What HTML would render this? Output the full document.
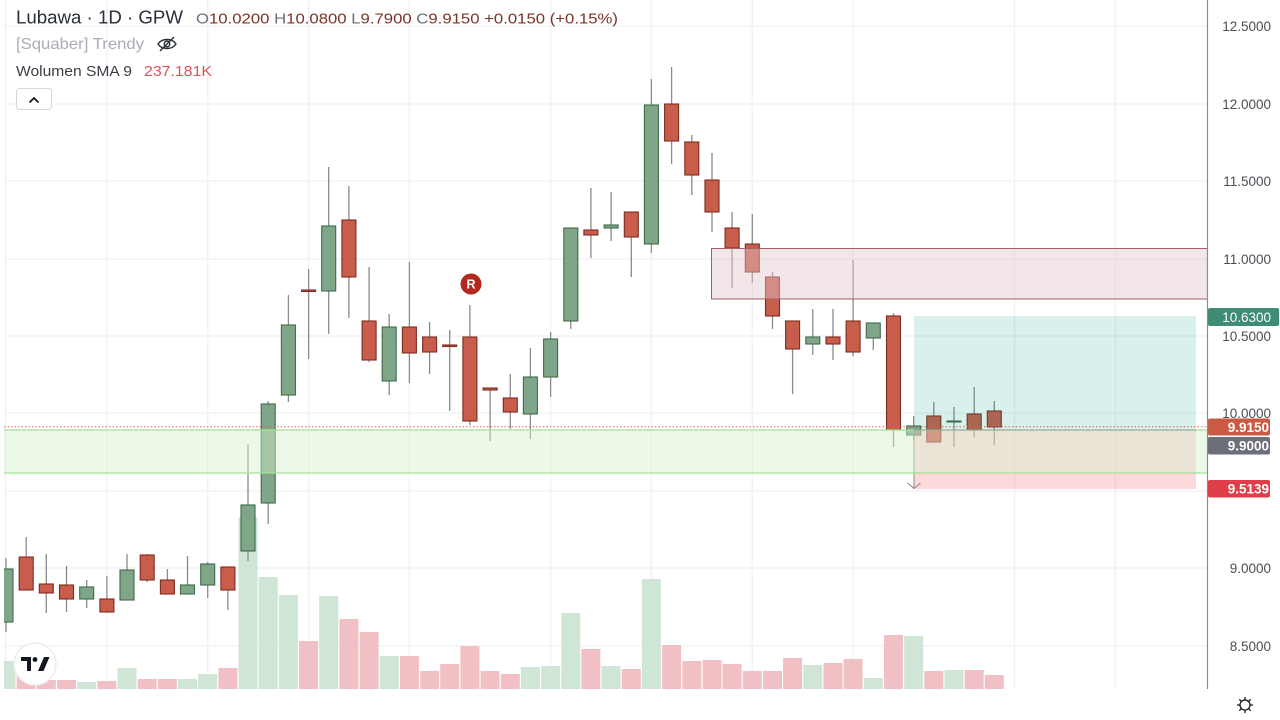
<!DOCTYPE html>
<html>
<head>
<meta charset="utf-8">
<style>
html,body{margin:0;padding:0;background:#fff;}
svg{display:block;}
text{font-family:"Liberation Sans",sans-serif;}
</style>
</head>
<body>
<svg width="1280" height="720" viewBox="0 0 1280 720" xmlns="http://www.w3.org/2000/svg">
<defs>
<clipPath id="plot"><rect x="4" y="0" width="1203" height="689"/></clipPath>
</defs>
<rect x="0" y="0" width="1280" height="720" fill="#ffffff"/>

<g clip-path="url(#plot)">
<!-- grid -->
<g stroke="#eef0f5" stroke-width="1.2">
<path d="M4 26H1207M4 104H1207M4 181H1207M4 259H1207M4 336H1207M4 413H1207M4 491H1207M4 568H1207M4 646H1207"/>
<path d="M5.5 0V689M106.9 0V689M207.7 0V689M308.6 0V689M409.4 0V689M550.6 0V689M651.4 0V689M752.3 0V689M853.1 0V689M1014.5 0V689M1115.4 0V689"/>
</g>

<!-- volume -->
<g fill="#cfe5d6">
<rect x="-3.5" y="661" width="19" height="28"/>
<rect x="77.2" y="682" width="19" height="7"/>
<rect x="117.5" y="668" width="19" height="21"/>
<rect x="178.0" y="679" width="19" height="10"/>
<rect x="198.2" y="674" width="19" height="15"/>
<rect x="238.5" y="517" width="19" height="172"/>
<rect x="258.7" y="577" width="19" height="112"/>
<rect x="278.9" y="595" width="19" height="94"/>
<rect x="319.2" y="596" width="19" height="93"/>
<rect x="379.7" y="656" width="19" height="33"/>
<rect x="520.9" y="667" width="19" height="22"/>
<rect x="541.1" y="666" width="19" height="23"/>
<rect x="561.3" y="613" width="19" height="76"/>
<rect x="601.6" y="666" width="19" height="23"/>
<rect x="641.9" y="579" width="19" height="110"/>
<rect x="803.3" y="665" width="19" height="24"/>
<rect x="863.8" y="678" width="19" height="11"/>
<rect x="904.2" y="636" width="19" height="53"/>
<rect x="944.5" y="670" width="19" height="19"/>
</g>
<g fill="#f0c0c4">
<rect x="16.7" y="675" width="19" height="14"/>
<rect x="36.8" y="680" width="19" height="9"/>
<rect x="57.0" y="680" width="19" height="9"/>
<rect x="97.4" y="681" width="19" height="8"/>
<rect x="137.7" y="679" width="19" height="10"/>
<rect x="157.9" y="679" width="19" height="10"/>
<rect x="218.4" y="668" width="19" height="21"/>
<rect x="299.1" y="641" width="19" height="48"/>
<rect x="339.4" y="619" width="19" height="70"/>
<rect x="359.6" y="632" width="19" height="57"/>
<rect x="399.9" y="656" width="19" height="33"/>
<rect x="420.1" y="671" width="19" height="18"/>
<rect x="440.2" y="664" width="19" height="25"/>
<rect x="460.4" y="646" width="19" height="43"/>
<rect x="480.6" y="671" width="19" height="18"/>
<rect x="500.8" y="674" width="19" height="15"/>
<rect x="581.4" y="649" width="19" height="40"/>
<rect x="621.8" y="669" width="19" height="20"/>
<rect x="662.1" y="645" width="19" height="44"/>
<rect x="682.3" y="661" width="19" height="28"/>
<rect x="702.5" y="660" width="19" height="29"/>
<rect x="722.6" y="664" width="19" height="25"/>
<rect x="742.8" y="671" width="19" height="18"/>
<rect x="763.0" y="671" width="19" height="18"/>
<rect x="783.1" y="658" width="19" height="31"/>
<rect x="823.5" y="663" width="19" height="26"/>
<rect x="843.6" y="659" width="19" height="30"/>
<rect x="884.0" y="635" width="19" height="54"/>
<rect x="924.3" y="671" width="19" height="18"/>
<rect x="964.7" y="670" width="19" height="19"/>
<rect x="984.8" y="675" width="19" height="14"/>
</g>

<!-- wicks -->
<path stroke="#8a8a8a" stroke-width="1.3" fill="none" d="M6 558V632M26.2 537V590M46.3 554V613M66.5 566V612M86.7 580V608M106.9 576V612M127 554V600M147.2 554V582M167.4 569V594M187.5 556V594M207.7 562V598M227.9 567V610M248 444V561M268.2 401V524M288.4 295V402M308.6 269V359M328.7 167V334M348.9 186V318M369.1 267V362M389.2 314V395M409.4 262V383M429.6 322V374M449.7 330V411M469.9 305V425M490.1 388V441M510.3 374V429M530.4 348V439M550.6 332V397M570.8 228V329M590.9 188V258M611.1 192V241M631.3 212V277M651.4 79V253M671.6 67V164M691.8 135V195M712 153V232M732.1 212V288M752.3 214V283M772.5 272V329M792.6 321V394M812.8 309V355M833 309V360M853.1 260V356M873.3 323V350M893.5 313V447M913.7 416V440M933.8 402V443M954 407V447M974.2 387V437M994.3 401V445"/>

<!-- green candles -->
<g fill="#7fa688" stroke="#3f6b4b" stroke-width="1.1">
<rect x="-1.0" y="569" width="14" height="53"/>
<rect x="79.7" y="587" width="14" height="12"/>
<rect x="120.0" y="570" width="14" height="30"/>
<rect x="180.5" y="585" width="14" height="9"/>
<rect x="200.7" y="564" width="14" height="21"/>
<rect x="241.0" y="505" width="14" height="46"/>
<rect x="261.2" y="404" width="14" height="99"/>
<rect x="281.4" y="325" width="14" height="70"/>
<rect x="321.7" y="226" width="14" height="65"/>
<rect x="382.2" y="327" width="14" height="54"/>
<rect x="523.4" y="377" width="14" height="37"/>
<rect x="543.6" y="339" width="14" height="38"/>
<rect x="563.8" y="228" width="14" height="93"/>
<rect x="604.1" y="225" width="14" height="3"/>
<rect x="644.4" y="105" width="14" height="139"/>
<rect x="805.8" y="337" width="14" height="7"/>
<rect x="866.3" y="323" width="14" height="15"/>
<rect x="906.7" y="426" width="14" height="9"/>
<rect x="947.0" y="421" width="14" height="1"/>
</g>
<!-- red candles -->
<g fill="#c75d4a" stroke="#7d2c20" stroke-width="1.1">
<rect x="19.2" y="557" width="14" height="33"/>
<rect x="39.3" y="584" width="14" height="9"/>
<rect x="59.5" y="585" width="14" height="14"/>
<rect x="99.9" y="599" width="14" height="13"/>
<rect x="140.2" y="555" width="14" height="25"/>
<rect x="160.4" y="580" width="14" height="14"/>
<rect x="220.9" y="567" width="14" height="23"/>
<rect x="301.6" y="290" width="14" height="1.5"/>
<rect x="341.9" y="220" width="14" height="57"/>
<rect x="362.1" y="321" width="14" height="39"/>
<rect x="402.4" y="327" width="14" height="26"/>
<rect x="422.6" y="337" width="14" height="15"/>
<rect x="442.7" y="345" width="14" height="1.5"/>
<rect x="462.9" y="337" width="14" height="84"/>
<rect x="483.1" y="388" width="14" height="2"/>
<rect x="503.3" y="398" width="14" height="14"/>
<rect x="583.9" y="230" width="14" height="5"/>
<rect x="624.3" y="212" width="14" height="25"/>
<rect x="664.6" y="104" width="14" height="37"/>
<rect x="684.8" y="142" width="14" height="33"/>
<rect x="705.0" y="180" width="14" height="32"/>
<rect x="725.1" y="228" width="14" height="20"/>
<rect x="745.3" y="244" width="14" height="28"/>
<rect x="765.5" y="277" width="14" height="39"/>
<rect x="785.6" y="321" width="14" height="28"/>
<rect x="826.0" y="337" width="14" height="7"/>
<rect x="846.1" y="321" width="14" height="31"/>
<rect x="886.5" y="316" width="14" height="114"/>
<rect x="926.8" y="416" width="14" height="26"/>
<rect x="967.2" y="414" width="14" height="16"/>
<rect x="987.3" y="411" width="14" height="16"/>
</g>

<!-- red resistance box -->
<rect x="711.5" y="248.5" width="500" height="50.5" fill="rgba(226,200,206,0.45)" stroke="#a65d63" stroke-width="1"/>

<!-- position tool -->
<rect x="914" y="316" width="282" height="114" fill="rgba(8,153,129,0.15)"/>
<rect x="914" y="430" width="282" height="59" fill="rgba(242,54,69,0.19)"/>
<path d="M914 430V489" stroke="#8a8a8a" stroke-width="1"/>
<path d="M907.5 483L914 488.5L920.5 483" stroke="#8a8a8a" stroke-width="1" fill="none"/>

<!-- green support zone (on top) -->
<rect x="4" y="430" width="1203" height="43" fill="rgba(212,240,204,0.45)"/>
<path d="M4 430H1207M4 473H1207" stroke="#a6e294" stroke-width="1.3"/>
<path d="M914 430H1196" stroke="#8fa095" stroke-width="1"/>

<!-- current price dotted line -->
<path d="M4 426.7H1207" stroke="#e0605a" stroke-width="1" stroke-dasharray="1.5 2"/>

<!-- R marker -->
<circle cx="471" cy="284" r="10.5" fill="#b2281e"/>
<text x="471" y="288.5" font-size="12.5" font-weight="bold" fill="#ffffff" text-anchor="middle">R</text>
</g>

<!-- price axis -->
<path d="M1207.5 0V689" stroke="#8a8c92" stroke-width="1.2"/>
<g font-size="13.5" fill="#4c4e55" text-anchor="end">
<text x="1271" y="31">12.5000</text>
<text x="1271" y="109">12.0000</text>
<text x="1271" y="186">11.5000</text>
<text x="1271" y="264">11.0000</text>
<text x="1271" y="341">10.5000</text>
<text x="1271" y="418">10.0000</text>
<text x="1271" y="573">9.0000</text>
<text x="1271" y="651">8.5000</text>
</g>
<rect x="1208" y="308" width="71" height="18" rx="2" fill="#3e8c75"/>
<text x="1271" y="322" font-size="13.5" fill="#ffffff" text-anchor="end">10.6300</text>
<rect x="1208" y="418.5" width="62" height="17" rx="2" fill="#c95b45"/>
<text x="1269" y="432" font-size="13.5" font-weight="bold" fill="#ffffff" text-anchor="end">9.9150</text>
<rect x="1208" y="437" width="62" height="17.5" rx="2" fill="#6c6e78"/>
<text x="1269" y="450.5" font-size="13.5" font-weight="bold" fill="#ffffff" text-anchor="end">9.9000</text>
<rect x="1208" y="480" width="62" height="17.5" rx="2" fill="#df3f4a"/>
<text x="1269" y="493.5" font-size="13.5" font-weight="bold" fill="#ffffff" text-anchor="end">9.5139</text>

<!-- gear -->
<g transform="translate(1245,705)" stroke="#131722" stroke-width="1.3" fill="none">
<circle r="5"/>
<path d="M0 -8V-5M0 5V8M-8 0H-5M5 0H8M-5.7 -5.7L-3.5 -3.5M3.5 3.5L5.7 5.7M-5.7 5.7L-3.5 3.5M3.5 -3.5L5.7 -5.7"/>
</g>

<!-- TV logo -->
<circle cx="35" cy="664" r="21" fill="#ffffff" stroke="#ececec" stroke-width="1.5"/>
<g fill="#131722">
<path d="M21 657H31V671H27V661H21Z"/>
<circle cx="35" cy="659.5" r="2.4"/>
<path d="M38 671L44 657H49.5L43.5 671Z"/>
</g>

<!-- header legend -->
<text x="16" y="23.5" font-size="18" fill="#2a2e39" textLength="167" lengthAdjust="spacingAndGlyphs">Lubawa · 1D · GPW</text>
<text x="196" y="23.5" font-size="15" fill="#7b3328" textLength="422" lengthAdjust="spacingAndGlyphs"><tspan fill="#6a6d78">O</tspan>10.0200 <tspan fill="#6a6d78">H</tspan>10.0800 <tspan fill="#6a6d78">L</tspan>9.7900 <tspan fill="#6a6d78">C</tspan>9.9150 +0.0150 (+0.15%)</text>
<text x="16" y="49" font-size="16" fill="#a9acb4" textLength="128" lengthAdjust="spacingAndGlyphs">[Squaber] Trendy</text>
<g transform="translate(167,44)" stroke="#2a2e39" stroke-width="1.4" fill="none">
<path d="M-9 0C-5 -6 5 -6 9 0C5 6 -5 6 -9 0Z"/>
<circle r="2.8"/>
<path d="M-7 7L7 -7"/>
</g>
<text x="16" y="76" font-size="15" fill="#3b3e47" textLength="116" lengthAdjust="spacingAndGlyphs">Wolumen SMA 9</text>
<text x="144" y="76" font-size="15" fill="#e0525a" textLength="68" lengthAdjust="spacingAndGlyphs">237.181K</text>
<rect x="16.5" y="88.5" width="35" height="21" rx="3" fill="#ffffff" stroke="#d6d8de" stroke-width="1"/>
<path d="M29.5 102.5L34 98L38.5 102.5" stroke="#131722" stroke-width="1.8" fill="none"/>
</svg>
</body>
</html>
